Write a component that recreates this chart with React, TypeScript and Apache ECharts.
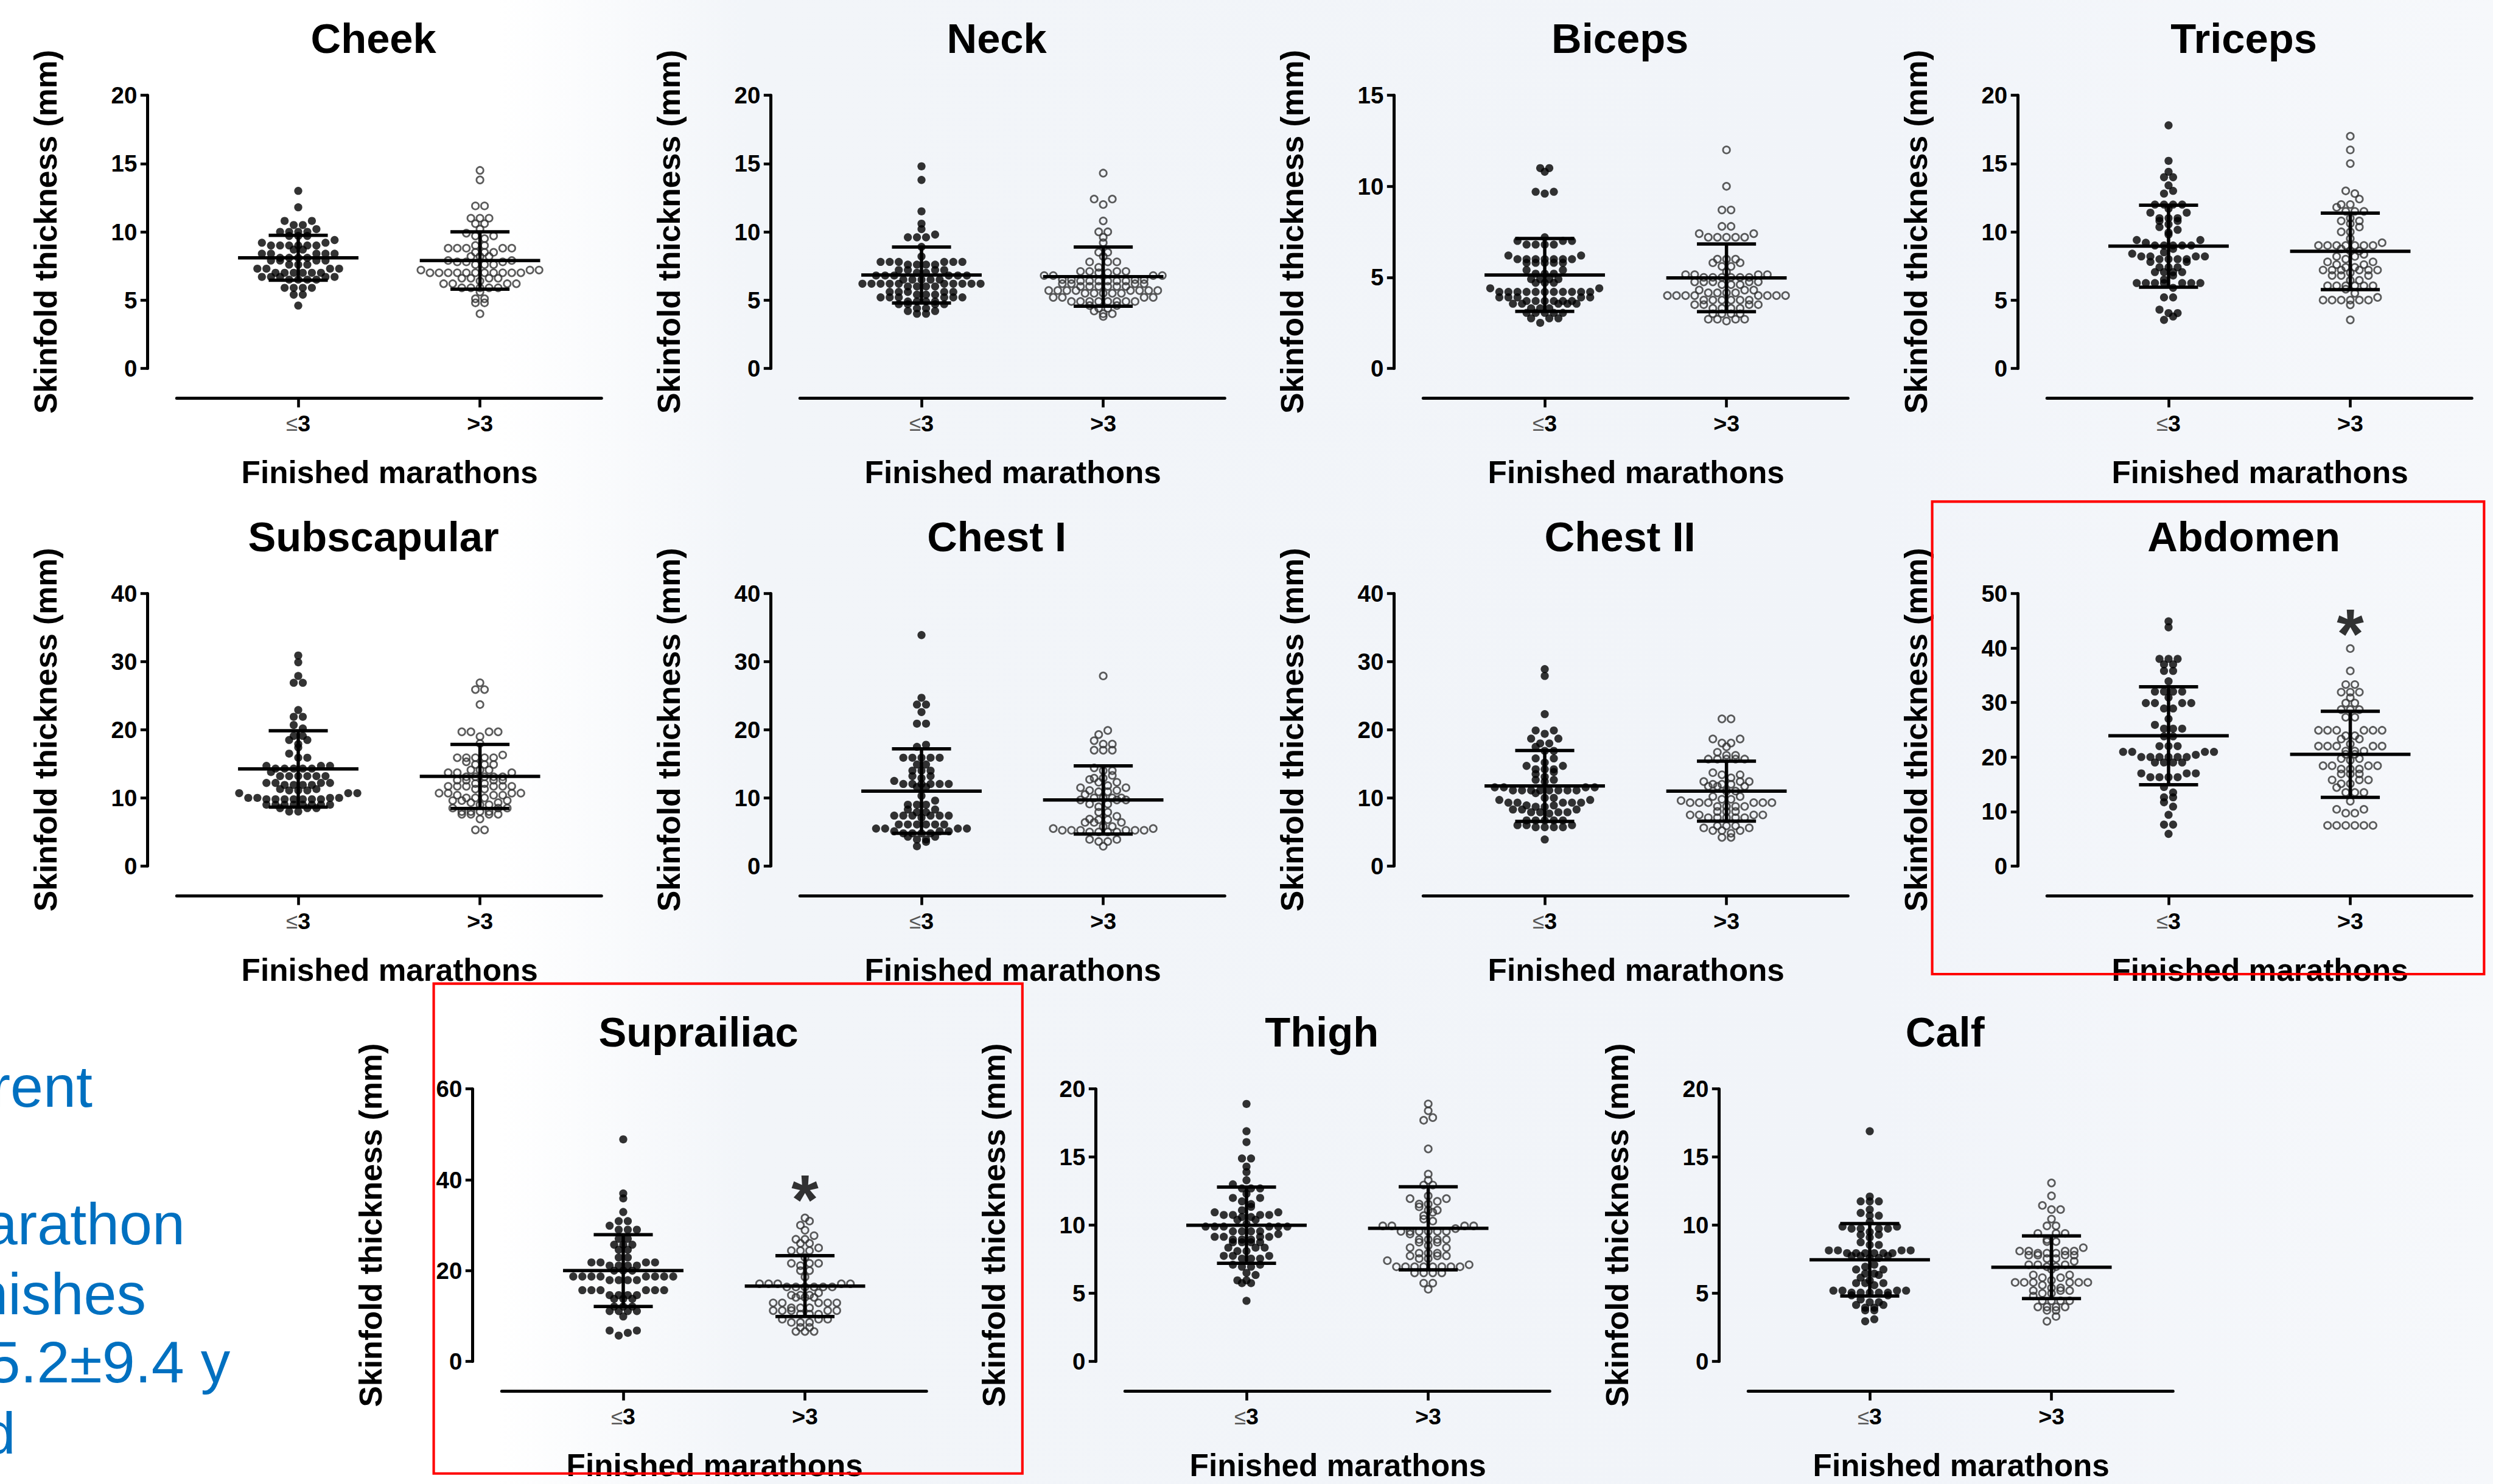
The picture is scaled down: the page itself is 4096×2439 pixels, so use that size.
import React, { useEffect, useRef } from "react";
import * as echarts from "echarts";

// ---------------- DATA ----------------
const PANEL_TITLES = ["Cheek", "Neck", "Biceps", "Triceps", "Subscapular", "Chest I", "Chest II", "Abdomen", "Suprailiac", "Thigh", "Calf"];
const Y_MAX = [20, 20, 15, 20, 40, 40, 40, 50, 60, 20, 20];
const Y_STEP = [5, 5, 5, 5, 10, 10, 10, 10, 20, 5, 5];
const GROUP_LABELS = ["{le|≤}{b|3}", "{b|>3}"];
const Y_TITLE = "Skinfold thickness (mm)";
const X_TITLE = "Finished marathons";

const cheekLe = [13.0, 11.8, 10.8, 10.8, 10.5, 10.5, 10.2, 10.0, 10.0, 10.0, 10.0, 9.7, 9.7, 9.7, 9.4, 9.2, 9.2, 9.0, 9.0, 9.0, 9.0, 9.0, 9.0, 8.7, 8.7, 8.4, 8.4, 8.4, 8.4, 8.4, 8.1, 8.1, 8.1, 8.1, 7.9, 7.9, 7.9, 7.9, 7.6, 7.6, 7.6, 7.3, 7.3, 7.3, 7.3, 7.0, 7.0, 7.0, 7.0, 7.0, 7.0, 6.7, 6.7, 6.7, 6.7, 6.7, 6.5, 6.5, 6.5, 6.5, 5.9, 5.9, 5.9, 5.9, 5.4, 5.4, 4.6];
const cheekGt = [14.5, 13.8, 11.9, 11.9, 11.0, 11.0, 11.0, 10.6, 10.6, 10.2, 9.9, 9.7, 9.7, 9.5, 9.0, 9.0, 8.8, 8.8, 8.8, 8.8, 8.8, 8.5, 8.5, 8.5, 8.2, 8.2, 8.2, 7.9, 7.9, 7.8, 7.8, 7.8, 7.6, 7.6, 7.6, 7.2, 7.2, 7.2, 7.0, 7.0, 7.0, 7.0, 7.0, 7.0, 7.0, 7.0, 7.0, 7.0, 7.0, 6.6, 6.6, 6.6, 6.6, 6.4, 6.2, 6.2, 6.2, 6.2, 5.9, 5.9, 5.9, 5.9, 5.9, 5.6, 5.1, 5.1, 4.8, 4.8, 4.0];
const neckLe = [14.8, 13.8, 11.5, 10.6, 10.2, 9.8, 9.6, 9.6, 9.6, 8.9, 8.2, 7.8, 7.8, 7.8, 7.8, 7.8, 7.8, 7.6, 7.6, 7.6, 7.6, 7.2, 7.2, 7.2, 7.2, 7.0, 7.0, 6.8, 6.8, 6.8, 6.8, 6.8, 6.8, 6.5, 6.5, 6.5, 6.5, 6.5, 6.2, 6.2, 6.2, 6.2, 6.2, 6.2, 6.2, 6.2, 6.2, 6.2, 6.0, 6.0, 6.0, 6.0, 5.6, 5.6, 5.6, 5.6, 5.6, 5.4, 5.4, 5.4, 5.2, 5.2, 5.2, 5.2, 5.2, 5.2, 4.9, 4.9, 4.9, 4.9, 4.7, 4.7, 4.7, 4.7, 4.4, 4.4, 4.2, 4.2, 4.0, 4.0];
const neckGt = [14.3, 12.4, 12.4, 12.0, 10.8, 10.0, 10.0, 9.6, 9.2, 8.5, 8.5, 8.2, 7.8, 7.8, 7.8, 7.4, 7.1, 7.1, 7.1, 7.1, 7.0, 7.0, 6.8, 6.8, 6.8, 6.8, 6.5, 6.5, 6.5, 6.5, 6.4, 6.4, 6.4, 6.4, 6.4, 6.4, 6.2, 6.2, 6.2, 6.2, 6.0, 6.0, 6.0, 6.0, 6.0, 6.0, 5.7, 5.7, 5.7, 5.7, 5.7, 5.7, 5.7, 5.7, 5.5, 5.5, 5.5, 5.5, 5.5, 5.2, 5.2, 5.2, 5.2, 4.9, 4.9, 4.9, 4.9, 4.9, 4.9, 4.9, 4.9, 4.6, 4.6, 4.4, 4.4, 4.2, 4.0, 4.0, 3.8];
const bicepsLe = [11.0, 10.8, 11.0, 9.7, 9.6, 9.7, 7.2, 7.0, 7.0, 7.0, 6.8, 6.8, 6.8, 6.8, 6.2, 6.2, 6.0, 6.0, 6.0, 6.0, 6.0, 6.0, 6.0, 5.8, 5.8, 5.8, 5.8, 5.8, 5.4, 5.4, 5.2, 5.2, 5.2, 4.9, 4.9, 4.9, 4.9, 4.7, 4.7, 4.7, 4.4, 4.4, 4.2, 4.2, 4.2, 4.2, 4.2, 4.2, 4.2, 4.2, 4.2, 4.2, 4.2, 3.9, 3.9, 3.9, 3.9, 3.9, 3.7, 3.7, 3.7, 3.7, 3.7, 3.7, 3.55, 3.55, 3.55, 3.55, 3.55, 3.3, 3.3, 3.3, 3.05, 3.05, 3.05, 3.05, 3.05, 2.75, 2.75, 2.75, 2.5];
const bicepsGt = [12.0, 10.0, 8.7, 8.7, 7.8, 7.8, 7.4, 7.4, 7.2, 7.2, 7.2, 7.2, 7.2, 6.0, 6.0, 6.0, 5.8, 5.8, 5.6, 5.6, 5.3, 5.15, 5.15, 5.15, 5.15, 5.0, 5.0, 5.0, 5.0, 5.0, 5.0, 4.75, 4.75, 4.75, 4.75, 4.75, 4.6, 4.6, 4.6, 4.3, 4.3, 4.3, 4.15, 4.15, 4.15, 4.15, 4.0, 4.0, 4.0, 4.0, 4.0, 4.0, 4.0, 4.0, 3.75, 3.75, 3.75, 3.75, 3.75, 3.75, 3.5, 3.5, 3.5, 3.5, 3.3, 3.3, 3.3, 3.3, 3.0, 3.0, 3.0, 3.0, 2.7, 2.7, 2.7, 2.7, 2.6];
const tricepsLe = [17.8, 15.2, 14.4, 14.0, 14.0, 13.4, 13.0, 12.8, 12.0, 12.0, 12.0, 12.0, 11.7, 11.4, 11.4, 11.0, 11.0, 11.0, 10.8, 10.8, 10.55, 10.35, 10.15, 9.95, 9.8, 9.4, 9.4, 9.2, 9.0, 9.0, 9.0, 9.0, 9.0, 8.75, 8.5, 8.4, 8.2, 8.2, 8.2, 8.2, 8.0, 8.0, 8.0, 8.0, 7.8, 7.8, 7.4, 7.4, 7.4, 7.05, 7.05, 7.05, 7.05, 6.8, 6.5, 6.25, 6.25, 6.25, 6.25, 6.25, 6.25, 6.25, 5.9, 5.2, 5.2, 4.3, 4.05, 4.05, 3.8, 3.55];
const tricepsGt = [17.0, 16.0, 15.0, 13.0, 12.8, 12.4, 12.0, 12.0, 11.8, 11.5, 11.5, 11.5, 11.0, 10.8, 10.8, 10.6, 10.35, 10.0, 10.0, 9.5, 9.2, 9.0, 9.0, 9.0, 9.0, 9.0, 9.0, 9.0, 8.75, 8.6, 8.6, 8.35, 8.2, 8.2, 8.0, 7.8, 7.8, 7.6, 7.6, 7.4, 7.4, 7.2, 7.2, 7.2, 7.2, 7.2, 7.2, 7.0, 6.8, 6.8, 6.8, 6.45, 6.45, 6.05, 6.05, 6.05, 6.05, 6.05, 6.05, 5.8, 5.5, 5.2, 5.0, 5.0, 5.0, 5.0, 5.0, 5.0, 4.65, 3.55];
const subscapLe = [30.9, 29.9, 27.9, 26.9, 26.9, 22.9, 21.9, 21.9, 20.7, 20.2, 19.1, 19.1, 18.5, 18.5, 17.9, 17.4, 16.5, 15.9, 15.9, 14.7, 14.7, 14.7, 14.3, 14.3, 14.3, 14.3, 14.3, 13.8, 13.2, 13.2, 13.2, 13.2, 13.2, 13.2, 12.2, 12.2, 12.2, 12.2, 11.9, 11.9, 11.9, 11.9, 11.3, 11.3, 11.1, 11.1, 11.1, 10.7, 10.7, 10.7, 10.0, 10.0, 10.0, 10.0, 9.8, 9.8, 9.8, 9.8, 9.8, 9.8, 9.8, 9.0, 9.0, 9.0, 9.0, 9.0, 9.0, 9.0, 9.0, 8.5, 8.5, 8.5, 8.0, 8.0];
const subscapGt = [26.9, 25.9, 25.9, 23.7, 19.7, 19.7, 19.7, 19.7, 19.0, 18.0, 16.3, 15.9, 15.9, 15.9, 15.9, 15.9, 15.3, 14.9, 14.9, 14.9, 14.1, 14.1, 14.1, 13.7, 13.7, 13.7, 13.1, 13.1, 13.1, 13.1, 13.1, 12.6, 12.6, 12.6, 12.6, 12.1, 12.1, 11.7, 11.7, 11.7, 11.7, 11.7, 11.7, 11.3, 11.3, 10.7, 10.7, 10.7, 10.7, 10.4, 10.4, 10.4, 10.0, 10.0, 10.0, 9.6, 9.6, 9.6, 9.3, 9.3, 9.0, 9.0, 8.5, 8.5, 8.5, 8.0, 8.0, 8.0, 8.0, 7.6, 7.6, 7.6, 7.6, 6.9, 5.3, 5.3];
const chest1Le = [33.9, 24.7, 23.7, 23.7, 22.6, 20.9, 20.9, 17.8, 17.5, 15.9, 15.9, 15.9, 15.9, 15.9, 14.9, 14.9, 14.0, 14.0, 14.0, 13.2, 13.2, 12.9, 12.5, 12.05, 12.05, 12.05, 12.05, 12.05, 12.05, 11.6, 11.6, 10.3, 9.6, 9.0, 9.0, 9.0, 8.3, 8.3, 7.9, 7.9, 7.4, 7.4, 7.4, 7.4, 7.4, 7.4, 7.1, 6.1, 6.1, 6.1, 6.1, 6.1, 6.1, 5.5, 5.5, 5.5, 5.5, 5.1, 5.1, 5.1, 4.8, 4.8, 4.8, 4.8, 4.3, 4.3, 3.9, 3.9, 3.55, 2.9];
const chest1Gt = [27.9, 19.9, 19.3, 18.4, 17.9, 17.9, 17.0, 17.0, 17.0, 14.4, 14.0, 14.0, 13.3, 12.9, 12.9, 12.7, 12.3, 12.3, 11.8, 11.5, 11.5, 11.1, 11.1, 10.9, 10.9, 10.5, 10.0, 10.0, 10.0, 10.0, 9.7, 9.7, 9.7, 9.1, 9.1, 8.7, 7.9, 7.9, 7.3, 6.9, 6.8, 6.8, 6.4, 6.4, 6.4, 5.8, 5.8, 5.5, 5.5, 5.25, 5.25, 5.25, 5.25, 5.25, 5.25, 5.0, 5.0, 5.0, 5.0, 3.9, 3.9, 3.6, 3.6, 2.9];
const chest2Le = [28.9, 27.9, 22.3, 19.9, 19.9, 19.4, 18.7, 18.7, 18.0, 18.0, 17.5, 16.9, 16.9, 15.8, 15.8, 15.2, 14.7, 14.7, 14.2, 14.2, 14.2, 13.8, 13.5, 13.1, 12.65, 12.65, 12.4, 11.55, 11.55, 11.55, 11.55, 11.1, 11.1, 11.1, 11.1, 11.1, 11.1, 11.1, 11.1, 10.7, 10.0, 10.0, 9.7, 9.7, 9.3, 9.3, 9.3, 9.3, 9.3, 8.9, 8.9, 8.7, 8.7, 8.3, 8.3, 8.3, 7.9, 7.9, 7.9, 7.9, 7.7, 6.7, 6.7, 6.7, 6.7, 6.7, 6.0, 6.0, 6.0, 5.7, 5.7, 5.7, 5.7, 3.9];
const chest2Gt = [21.6, 21.6, 18.65, 18.65, 18.05, 18.05, 17.5, 16.7, 16.25, 16.25, 15.7, 15.7, 15.7, 15.7, 15.7, 13.7, 13.4, 13.4, 12.95, 12.4, 12.4, 12.4, 12.0, 12.0, 12.0, 11.7, 11.7, 11.7, 11.0, 11.0, 10.2, 10.2, 9.8, 9.8, 9.6, 9.3, 9.3, 9.3, 9.3, 9.3, 9.3, 8.75, 8.75, 8.75, 8.75, 8.0, 8.0, 8.0, 7.5, 7.5, 7.5, 7.5, 7.1, 7.1, 7.1, 7.1, 7.1, 5.9, 5.9, 5.9, 5.6, 5.6, 5.2, 5.2, 5.2, 4.8, 4.2, 4.2];
const abdomenLe = [44.9, 43.8, 38.0, 38.0, 38.0, 37.0, 37.0, 35.8, 35.8, 33.9, 32.0, 32.0, 32.0, 32.0, 30.9, 29.9, 29.9, 29.9, 29.9, 28.9, 28.9, 27.0, 25.9, 25.2, 25.2, 25.2, 23.8, 23.8, 22.0, 22.0, 22.0, 20.95, 20.95, 20.95, 20.95, 20.4, 20.0, 20.0, 20.0, 20.0, 20.0, 20.0, 19.0, 19.0, 19.0, 19.0, 17.0, 17.0, 17.0, 16.3, 16.3, 16.3, 16.3, 14.5, 13.5, 12.6, 12.6, 11.7, 10.9, 9.4, 7.6, 7.6, 5.9];
const abdomenGt = [39.9, 35.8, 33.3, 33.3, 31.9, 31.9, 31.9, 30.9, 29.9, 29.9, 28.7, 28.7, 28.7, 27.3, 27.3, 24.9, 24.9, 24.9, 24.9, 24.9, 24.9, 23.9, 23.9, 23.3, 23.3, 22.4, 22.0, 22.0, 22.0, 22.0, 22.0, 21.1, 21.1, 21.1, 20.5, 20.5, 19.7, 19.7, 19.4, 18.4, 18.4, 18.4, 18.4, 17.8, 17.8, 17.8, 16.9, 16.9, 16.9, 15.8, 15.8, 15.8, 15.1, 15.1, 14.4, 13.5, 13.5, 13.5, 11.9, 10.4, 10.4, 9.7, 9.7, 7.45, 7.45, 7.45, 7.45, 7.45, 7.45];
const suprailiacLe = [48.9, 37.0, 35.9, 32.9, 30.9, 30.9, 29.9, 29.0, 29.0, 29.0, 27.0, 27.0, 25.7, 25.7, 25.7, 24.6, 24.6, 22.9, 22.9, 21.8, 21.8, 21.8, 21.8, 21.1, 21.1, 21.1, 21.1, 20.0, 20.0, 20.0, 18.7, 18.7, 18.7, 18.7, 18.7, 18.7, 18.7, 18.7, 17.9, 17.9, 17.9, 17.9, 15.7, 15.7, 15.7, 15.7, 15.7, 15.7, 14.6, 14.6, 14.6, 14.6, 13.8, 13.8, 13.8, 12.1, 12.1, 12.1, 11.1, 11.1, 11.1, 11.1, 9.9, 6.8, 6.8, 6.3, 5.7];
const suprailiacGt = [31.6, 30.9, 30.0, 28.9, 27.7, 26.9, 26.9, 26.0, 26.0, 25.0, 24.4, 24.4, 24.4, 22.9, 21.6, 21.6, 21.6, 21.1, 20.0, 20.0, 18.6, 17.1, 17.1, 17.1, 17.1, 17.1, 16.4, 16.4, 16.4, 16.4, 16.4, 16.4, 15.1, 14.6, 14.6, 14.6, 14.1, 14.1, 14.1, 12.9, 12.9, 12.9, 12.9, 12.9, 11.8, 11.8, 11.8, 11.2, 11.2, 11.2, 11.2, 11.2, 10.4, 10.4, 10.4, 9.3, 9.3, 9.3, 8.6, 8.6, 8.6, 7.5, 7.5, 6.6, 6.6, 6.6];
const thighLe = [18.9, 16.9, 16.1, 14.9, 14.9, 14.3, 13.9, 13.3, 13.0, 12.7, 12.7, 12.7, 12.3, 12.0, 12.0, 11.75, 11.55, 11.35, 11.1, 10.95, 10.95, 10.75, 10.75, 10.75, 10.75, 10.6, 10.6, 10.4, 10.4, 10.1, 9.9, 9.9, 9.9, 9.9, 9.9, 9.9, 9.55, 9.55, 9.55, 9.55, 9.35, 9.15, 9.15, 9.15, 9.15, 8.95, 8.95, 8.95, 8.75, 8.75, 8.75, 8.75, 8.35, 8.35, 8.35, 8.1, 8.1, 7.75, 7.75, 7.75, 7.55, 7.55, 7.55, 7.1, 7.1, 6.95, 6.95, 6.5, 6.35, 5.95, 5.95, 5.75, 5.75, 4.45];
const thighGt = [18.9, 18.4, 17.9, 17.7, 15.6, 13.75, 13.3, 12.95, 12.95, 12.15, 11.95, 11.95, 11.75, 11.55, 11.55, 11.35, 11.1, 11.1, 10.95, 10.7, 10.45, 10.3, 9.95, 9.95, 9.95, 9.95, 9.75, 9.55, 9.55, 9.55, 9.55, 9.55, 9.55, 9.35, 8.95, 8.95, 8.95, 8.95, 8.75, 8.75, 8.5, 8.35, 8.35, 7.95, 7.95, 7.95, 7.75, 7.75, 7.75, 7.55, 7.55, 7.4, 7.1, 6.95, 6.95, 6.95, 6.95, 6.95, 6.95, 6.95, 6.95, 6.5, 6.5, 6.5, 6.5, 5.75, 5.75, 5.3];
const calfLe = [16.9, 12.1, 11.75, 11.75, 11.75, 11.15, 10.9, 10.7, 10.7, 10.25, 9.9, 9.9, 9.75, 9.75, 9.75, 9.75, 9.5, 9.3, 9.3, 9.1, 8.75, 8.55, 8.55, 8.15, 8.15, 8.15, 8.15, 7.95, 7.95, 7.95, 7.95, 7.95, 7.95, 7.75, 7.75, 7.75, 7.6, 7.6, 7.1, 6.95, 6.75, 6.75, 6.45, 6.45, 6.35, 6.15, 5.95, 5.75, 5.75, 5.75, 5.6, 5.2, 5.2, 5.2, 5.2, 5.05, 5.05, 5.05, 5.05, 5.05, 4.85, 4.85, 4.55, 4.35, 4.35, 4.15, 4.15, 3.95, 3.95, 3.75, 3.75, 3.1, 2.95];
const calfGt = [13.1, 12.15, 11.45, 11.15, 11.15, 10.45, 9.95, 9.95, 9.4, 9.4, 9.4, 8.95, 8.8, 8.8, 8.35, 8.1, 8.1, 8.1, 8.1, 7.95, 7.95, 7.95, 7.8, 7.8, 7.8, 7.8, 7.55, 7.55, 7.35, 7.1, 7.1, 7.1, 6.95, 6.95, 6.75, 6.35, 6.35, 6.15, 6.15, 5.95, 5.8, 5.8, 5.8, 5.8, 5.8, 5.8, 5.6, 5.4, 5.4, 5.2, 5.2, 5.2, 5.0, 5.0, 4.8, 4.45, 4.45, 4.45, 4.45, 4.0, 4.0, 4.0, 4.0, 3.75, 3.75, 3.3, 2.95];

const VALUES_LE = [cheekLe, neckLe, bicepsLe, tricepsLe, subscapLe, chest1Le, chest2Le, abdomenLe, suprailiacLe, thighLe, calfLe];
const VALUES_GT = [cheekGt, neckGt, bicepsGt, tricepsGt, subscapGt, chest1Gt, chest2Gt, abdomenGt, suprailiacGt, thighGt, calfGt];
// mean and SD bars as drawn in the reference
const MEAN_LE = [8.1, 6.84, 5.13, 8.95, 14.25, 11.0, 11.75, 23.9, 20.0, 10.0, 7.46];
const SD_LE = [1.64, 2.05, 2.0, 3.0, 5.6, 6.2, 5.2, 9.0, 7.9, 2.8, 2.66];
const MEAN_GT = [7.9, 6.72, 4.97, 8.57, 13.15, 9.7, 11.0, 20.5, 16.6, 9.77, 6.91];
const SD_GT = [2.1, 2.17, 1.86, 2.8, 4.7, 5.0, 4.4, 7.9, 6.7, 3.05, 2.3];
// significance marks (*) over the >3 group
const STAR_PANELS = [7, 8];
const STAR_VALUES = [45.4, 38.9];

const SIDE_TEXT = ["rent", "arathon", "nishes", "5.2±9.4 y", "d"];

// ---------------- LAYOUT (reference pixels, scaled) ----------------
const S = 4096 / 4472;
const f = (v: number) => v * S;
const FONT = "'Liberation Sans', Arial, Helvetica, sans-serif";
const AXIS_X = [265, 1383, 2501, 3620, 265, 1383, 2501, 3620, 848, 1966, 3084];
const ROW = [0, 0, 0, 0, 1, 1, 1, 1, 2, 2, 2];
const TOP_Y = [171, 1065, 1954];
const ZERO_Y = [661, 1554, 2443];
const GRID_W = 762;
const UNIT_PX = 326; // reference px per x unit (distance between the two groups)
const X_MIN = 1 - 218 / UNIT_PX;
const X_MAX = X_MIN + GRID_W / UNIT_PX;
const DOT = 16.3; // horizontal spacing inside a row (ref px)
const BIN = 12.5; // row height (ref px)

// Prism-style scatter: points are binned into rows and each row is centred.
function swarm(values: number[], pxPerUnit: number): number[] {
  const out = new Array(values.length).fill(0);
  const bins = new Map<number, number[]>();
  values.forEach((v, i) => {
    const b = Math.round((v * pxPerUnit) / BIN);
    if (!bins.has(b)) bins.set(b, []);
    bins.get(b)!.push(i);
  });
  let parity = 0;
  Array.from(bins.keys()).sort((a, b) => a - b).forEach((b) => {
    const idx = bins.get(b)!.sort((p, q) => values[p] - values[q]);
    const n = idx.length;
    const slots = Array.from({ length: n }, (_, k) => (k - (n - 1) / 2) * DOT);
    slots.sort((p, q) => Math.abs(p) - Math.abs(q) || (parity ? q - p : p - q));
    parity = 1 - parity;
    idx.forEach((pi, k) => { out[pi] = slots[k]; });
  });
  return out;
}

function buildOption() {
  const grid: any[] = [], xAxis: any[] = [], yAxis: any[] = [], series: any[] = [], graphic: any[] = [];
  const lineStyle = { color: "#000", width: f(5.5) };

  graphic.push({
    type: "rect", z: -100, silent: true,
    shape: { x: 0, y: 0, width: 4096, height: 2439 },
    style: {
      fill: new echarts.graphic.LinearGradient(0, 0, 1, 0, [
        { offset: 0, color: "#ffffff" }, { offset: 0.2, color: "#ffffff" },
        { offset: 0.3, color: "#f2f5f9" }, { offset: 0.75, color: "#f1f4f9" }, { offset: 1, color: "#f6f8fb" },
      ]),
    },
  });

  for (let i = 0; i < PANEL_TITLES.length; i++) {
    const ax = AXIS_X[i], top = TOP_Y[ROW[i]], zero = ZERO_Y[ROW[i]];
    const h = zero - top;
    grid.push({ left: f(ax + 52), top: f(top), width: f(GRID_W), height: f(h) });
    xAxis.push({
      gridIndex: i, type: "value", min: X_MIN, max: X_MAX, offset: f(53),
      axisLine: { show: true, onZero: false, lineStyle },
      axisTick: { show: true, customValues: [1, 2], length: f(17), lineStyle: { color: "#000", width: f(5) } },
      axisLabel: {
        show: true, customValues: [1, 2], margin: f(25),
        formatter: (v: number) => GROUP_LABELS[Math.round(v) - 1] ?? "",
        fontSize: f(41), fontWeight: "bold", color: "#000", fontFamily: FONT,
        rich: {
          le: { fontSize: f(38), fontWeight: "normal", color: "#555", fontFamily: FONT },
          b: { fontSize: f(41), fontWeight: "bold", color: "#000", fontFamily: FONT },
        },
      },
      splitLine: { show: false },
    });
    yAxis.push({
      gridIndex: i, type: "value", min: 0, max: Y_MAX[i], interval: Y_STEP[i], offset: f(52),
      axisLine: { show: true, onZero: false, lineStyle },
      axisTick: { show: true, length: f(13), lineStyle: { color: "#000", width: f(5) } },
      axisLabel: { margin: f(19), fontSize: f(42), fontWeight: "bold", color: "#000", fontFamily: FONT },
      splitLine: { show: false },
    });
    const pxPerUnit = h / Y_MAX[i];
    const offLe = swarm(VALUES_LE[i], pxPerUnit);
    const offGt = swarm(VALUES_GT[i], pxPerUnit);
    series.push({
      type: "scatter", xAxisIndex: i, yAxisIndex: i, symbol: "circle", symbolSize: f(14.5), z: 3,
      itemStyle: { color: "#000" }, clip: false,
      data: VALUES_LE[i].map((v, k) => [1 + offLe[k] / UNIT_PX, v]),
    });
    series.push({
      type: "scatter", xAxisIndex: i, yAxisIndex: i, symbol: "circle", symbolSize: f(12.5), z: 3,
      itemStyle: { color: "rgba(255,255,255,0)", borderColor: "#333", borderWidth: f(3) }, clip: false,
      data: VALUES_GT[i].map((v, k) => [2 + offGt[k] / UNIT_PX, v]),
    });
    series.push({
      type: "custom", xAxisIndex: i, yAxisIndex: i, z: 5, clip: false,
      data: [[1, MEAN_LE[i], SD_LE[i]], [2, MEAN_GT[i], SD_GT[i]]],
      renderItem: (params: any, api: any) => {
        const x = api.value(0), m = api.value(1), sd = api.value(2);
        const c = api.coord([x, m]);
        const up = api.coord([x, m + sd]);
        const lo = api.coord([x, m - sd]);
        const st = { stroke: "#000", lineWidth: f(6), fill: "none" };
        const hw = f(108), cw = f(53);
        return {
          type: "group",
          children: [
            { type: "line", shape: { x1: c[0] - hw, y1: c[1], x2: c[0] + hw, y2: c[1] }, style: st },
            { type: "line", shape: { x1: c[0], y1: up[1], x2: c[0], y2: lo[1] }, style: st },
            { type: "line", shape: { x1: c[0] - cw, y1: up[1], x2: c[0] + cw, y2: up[1] }, style: st },
            { type: "line", shape: { x1: c[0] - cw, y1: lo[1], x2: c[0] + cw, y2: lo[1] }, style: st },
          ],
        };
      },
    });

    // titles and axis names
    graphic.push({
      type: "text", x: f(ax + 405), y: f(top - 102),
      style: { text: PANEL_TITLES[i], fill: "#000", fontSize: f(75), fontWeight: "bold", fontFamily: FONT, align: "center", verticalAlign: "middle", textAlign: "center", textVerticalAlign: "middle" },
    });
    graphic.push({
      type: "text", x: f(ax + 434), y: f(zero + 53 + 134),
      style: { text: X_TITLE, fill: "#000", fontSize: f(56), fontWeight: "bold", fontFamily: FONT, align: "center", verticalAlign: "middle", textAlign: "center", textVerticalAlign: "middle" },
    });
    graphic.push({
      type: "text", x: f(ax - 183), y: f((top + zero) / 2), rotation: Math.PI / 2,
      style: { text: Y_TITLE, fill: "#000", fontSize: f(56.5), fontWeight: "bold", fontFamily: FONT, align: "center", verticalAlign: "middle", textAlign: "center", textVerticalAlign: "middle" },
    });
  }

  STAR_PANELS.forEach((p, k) => {
    series.push({
      type: "scatter", xAxisIndex: p, yAxisIndex: p, symbolSize: 1, z: 6, clip: false,
      itemStyle: { color: "rgba(0,0,0,0)" },
      label: { show: true, position: "inside", formatter: "*", fontSize: f(125), fontWeight: "bold", color: "#000", fontFamily: FONT, offset: [0, f(125) * 0.21] },
      data: [[2, STAR_VALUES[k]]],
    });
  });

  // red highlight boxes
  graphic.push({ type: "rect", z: 20, shape: { x: f(3466), y: f(900), width: f(990), height: f(848) }, style: { fill: "none", stroke: "#ff0000", lineWidth: f(4.5) } });
  graphic.push({ type: "rect", z: 20, shape: { x: f(778), y: f(1765), width: f(1056), height: f(879) }, style: { fill: "none", stroke: "#ff0000", lineWidth: f(4.5) } });

  // blue slide text, cropped at the left edge as in the reference
  const rightEdges = [166, 332, 262, 413, 28];
  const baselines = [1986, 2233, 2359, 2481, 2609];
  SIDE_TEXT.forEach((t, k) => {
    graphic.push({
      type: "text", x: f(rightEdges[k]), y: f(baselines[k] - 0.347 * 106),
      style: { text: t, fill: "#0070C0", fontSize: f(106), fontFamily: FONT, align: "right", verticalAlign: "middle", textAlign: "right", textVerticalAlign: "middle" },
    });
  });

  return { animation: false, backgroundColor: "#ffffff", grid, xAxis, yAxis, series, graphic };
}

export default function App() {
  const ref = useRef<HTMLDivElement>(null);
  useEffect(() => {
    document.body.style.margin = "0";
    document.body.style.overflow = "hidden";
    if (!ref.current) return;
    const chart = echarts.init(ref.current, undefined, { renderer: "svg" });
    chart.setOption(buildOption() as any);
    return () => chart.dispose();
  }, []);
  return <div ref={ref} style={{ width: 4096, height: 2439 }} />;
}
